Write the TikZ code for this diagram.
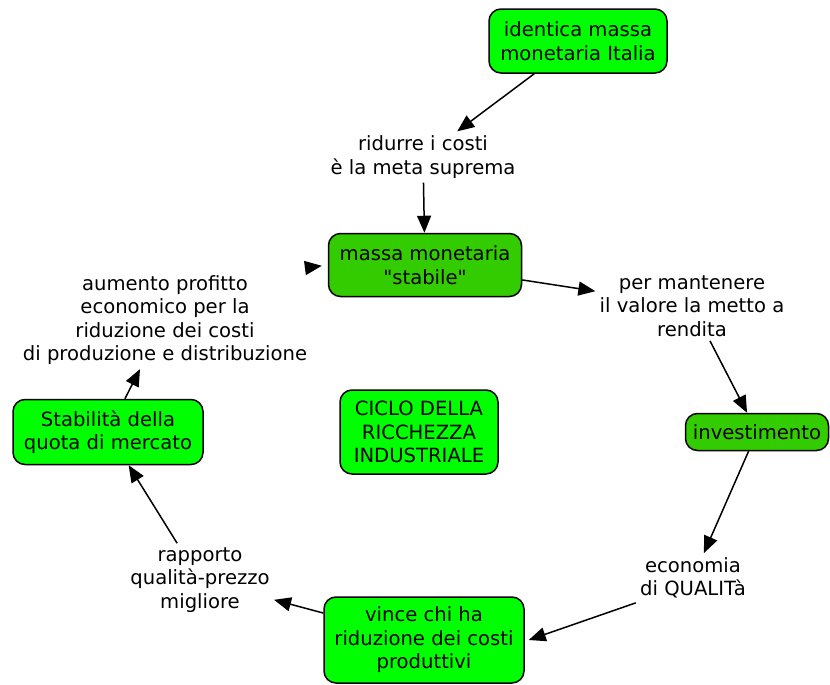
\documentclass[tikz,border=0pt]{standalone}
\usepackage{fontspec}
\setmainfont{DejaVu Sans}
\newfontfamily\plainquotes{DejaVu Sans}[Ligatures=TeXOff]
\usetikzlibrary{arrows.meta}
\definecolor{conceptgreen}{HTML}{00FF00}
\definecolor{keygreen}{HTML}{33CC00}
\tikzset{
  >={Triangle[length=8.5pt,width=7pt]},
  concept/.style={draw,line width=0.75pt,rounded corners=6pt,fill=conceptgreen,align=center,inner sep=2pt},
  linkphrase/.style={align=center,inner sep=2pt},
  arr/.style={->,line width=0.75pt},
}
\tikzstyle{every node}=[font=\fontsize{9.8}{11.75}\selectfont]

\begin{document}
\begin{tikzpicture}[x=0.5pt,y=-0.5pt]
    \useasboundingbox (0,0) rectangle (830,685);
    % concepts
    \node[concept,minimum width=89pt,minimum height=32pt] (italia) at (578,41) {identica massa\\monetaria Italia};
    \node[concept,fill=keygreen,minimum width=96.5pt,minimum height=31.5pt] (massa) at (425,265) {massa monetaria\\{\plainquotes "stabile"}};
    \node[concept,fill=keygreen,minimum width=71.5pt,minimum height=18.5pt] (invest) at (757,432) {investimento};
    \node[concept,minimum width=100pt,minimum height=43pt] (vince) at (424,640) {vince chi ha\\riduzione dei costi\\produttivi};
    \node[concept,minimum width=95pt,minimum height=32.5pt] (quota) at (108,432) {Stabilità della\\quota di mercato};
    \node[concept,minimum width=79pt,minimum height=42pt] (ciclo) at (419,432) {CICLO DELLA\\RICCHEZZA\\INDUSTRIALE};
    % linking phrases
    \node[linkphrase] (ridurre) at (423,157) {ridurre i costi\\è la meta suprema};
    \node[linkphrase] (mantenere) at (692,306) {per mantenere\\il valore la metto a\\rendita};
    \node[linkphrase] (economia) at (693,578) {economia\\di QUALITà};
    \node[linkphrase] (rapporto) at (200,580) {rapporto\\qualità-prezzo\\migliore};
    \node[linkphrase] (aumento) at (165,320) {aumento profitto\\economico per la\\riduzione dei costi\\di produzione e distribuzione};
    \coordinate (tail) at (305,268);
    % connections
    \draw[arr] (italia) -- (ridurre);
    \draw[arr] (ridurre) -- (massa);
    \draw[arr] (massa) -- (mantenere);
    \draw[arr] (mantenere) -- (invest);
    \draw[arr] (invest) -- (economia);
    \draw[arr] (economia.south west) -- ([xshift=2pt]vince.east);
    \draw[arr] (vince) -- (rapporto);
    \draw[arr] (rapporto) -- (quota);
    \draw[arr] (quota) -- (aumento);
    \draw[arr,shorten >=3pt] (tail) -- (massa.west);
\end{tikzpicture}
\end{document}
